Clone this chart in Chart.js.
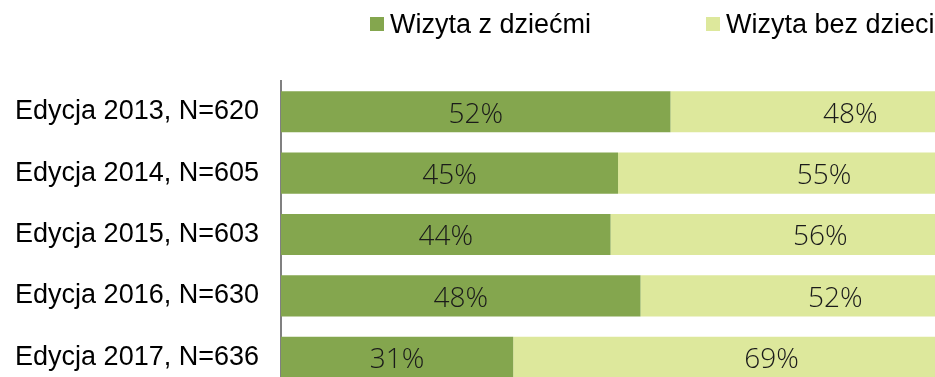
<!DOCTYPE html>
<html>
<head>
<meta charset="utf-8">
<script src="https://cdn.jsdelivr.net/npm/chart.js@4.4.1/dist/chart.umd.min.js"></script>
<style>
  html, body { margin: 0; padding: 0; background: #fff; overflow: hidden; }
  canvas { display: block; }
</style>
</head>
<body>
<canvas id="cvs_wizyty" width="1030" height="428"></canvas>
<script>
// dane z kolejnych edycji badania
const edycje = ["Edycja 2013, N=620", "Edycja 2014, N=605", "Edycja 2015, N=603", "Edycja 2016, N=630", "Edycja 2017, N=636"];
const zDziecmi = [52, 45, 44, 48, 31];
const bezDzieci = [48, 55, 56, 52, 69];

const kolorZDziecmi = "rgb(132, 166, 78)";
const kolorBezDzieci = "rgb(221, 232, 156)";

// legenda rysowana recznie nad wykresem
const legendaWlasna = {
  id: "legendaWlasna",
  afterDraw(chart) {
    const ctx = chart.ctx;
    ctx.save();
    ctx.font = "27px 'Liberation Sans', Arial, sans-serif";
    ctx.textBaseline = "alphabetic";
    ctx.textAlign = "left";
    const pozycje = [370, 706];
    chart.data.datasets.forEach((ds, i) => {
      const x = pozycje[i];
      ctx.fillStyle = ds.backgroundColor;
      ctx.fillRect(x, 17, 14, 14);
      ctx.fillStyle = "#000";
      ctx.fillText(ds.label, x + 20, 33);
    });
    ctx.restore();
  }
};

// procenty na srodku kazdego odcinka
const etykietyProcent = {
  id: "etykietyProcent",
  afterDatasetsDraw(chart) {
    const ctx = chart.ctx;
    ctx.save();
    ctx.font = "300 28px 'Open Sans', sans-serif";
    ctx.fillStyle = "#1a1a1a";
    ctx.textAlign = "center";
    ctx.textBaseline = "middle";
    chart.data.datasets.forEach((ds, i) => {
      chart.getDatasetMeta(i).data.forEach((bar, j) => {
        const srodek = (bar.x + bar.base) / 2;
        ctx.fillText(ds.data[j] + "%", srodek, bar.y + 3);
      });
    });
    ctx.restore();
  }
};

new Chart(document.getElementById("cvs_wizyty"), {
  type: "bar",
  data: {
    labels: edycje,
    datasets: [
      {
        label: "Wizyta z dziećmi",
        data: zDziecmi,
        backgroundColor: kolorZDziecmi,
        borderWidth: 0,
        barPercentage: 0.67,
        categoryPercentage: 1,
      },
      {
        label: "Wizyta bez dzieci",
        data: bezDzieci,
        backgroundColor: kolorBezDzieci,
        borderWidth: 0,
        barPercentage: 0.67,
        categoryPercentage: 1,
      },
    ],
  },
  options: {
    indexAxis: "y",
    responsive: false,
    animation: false,
    // dolny margines wychodzi poza widoczne okno, ostatni pasek jest przyciety
    layout: { padding: { top: 81, bottom: 40, left: 0, right: 0 } },
    plugins: {
      legend: { display: false },
      tooltip: { enabled: false },
    },
    scales: {
      x: {
        stacked: true,
        min: 0,
        max: 100,
        display: false,
      },
      y: {
        stacked: true,
        grid: { display: false },
        border: { display: true, color: "#808080", width: 2 },
        ticks: {
          color: "#000",
          padding: 14,
          font: { family: "'Liberation Sans', Arial, sans-serif", size: 27 },
        },
        afterFit(scale) {
          scale.width = 281;
        },
      },
    },
  },
  plugins: [legendaWlasna, etykietyProcent],
});
</script>
</body>
</html>
